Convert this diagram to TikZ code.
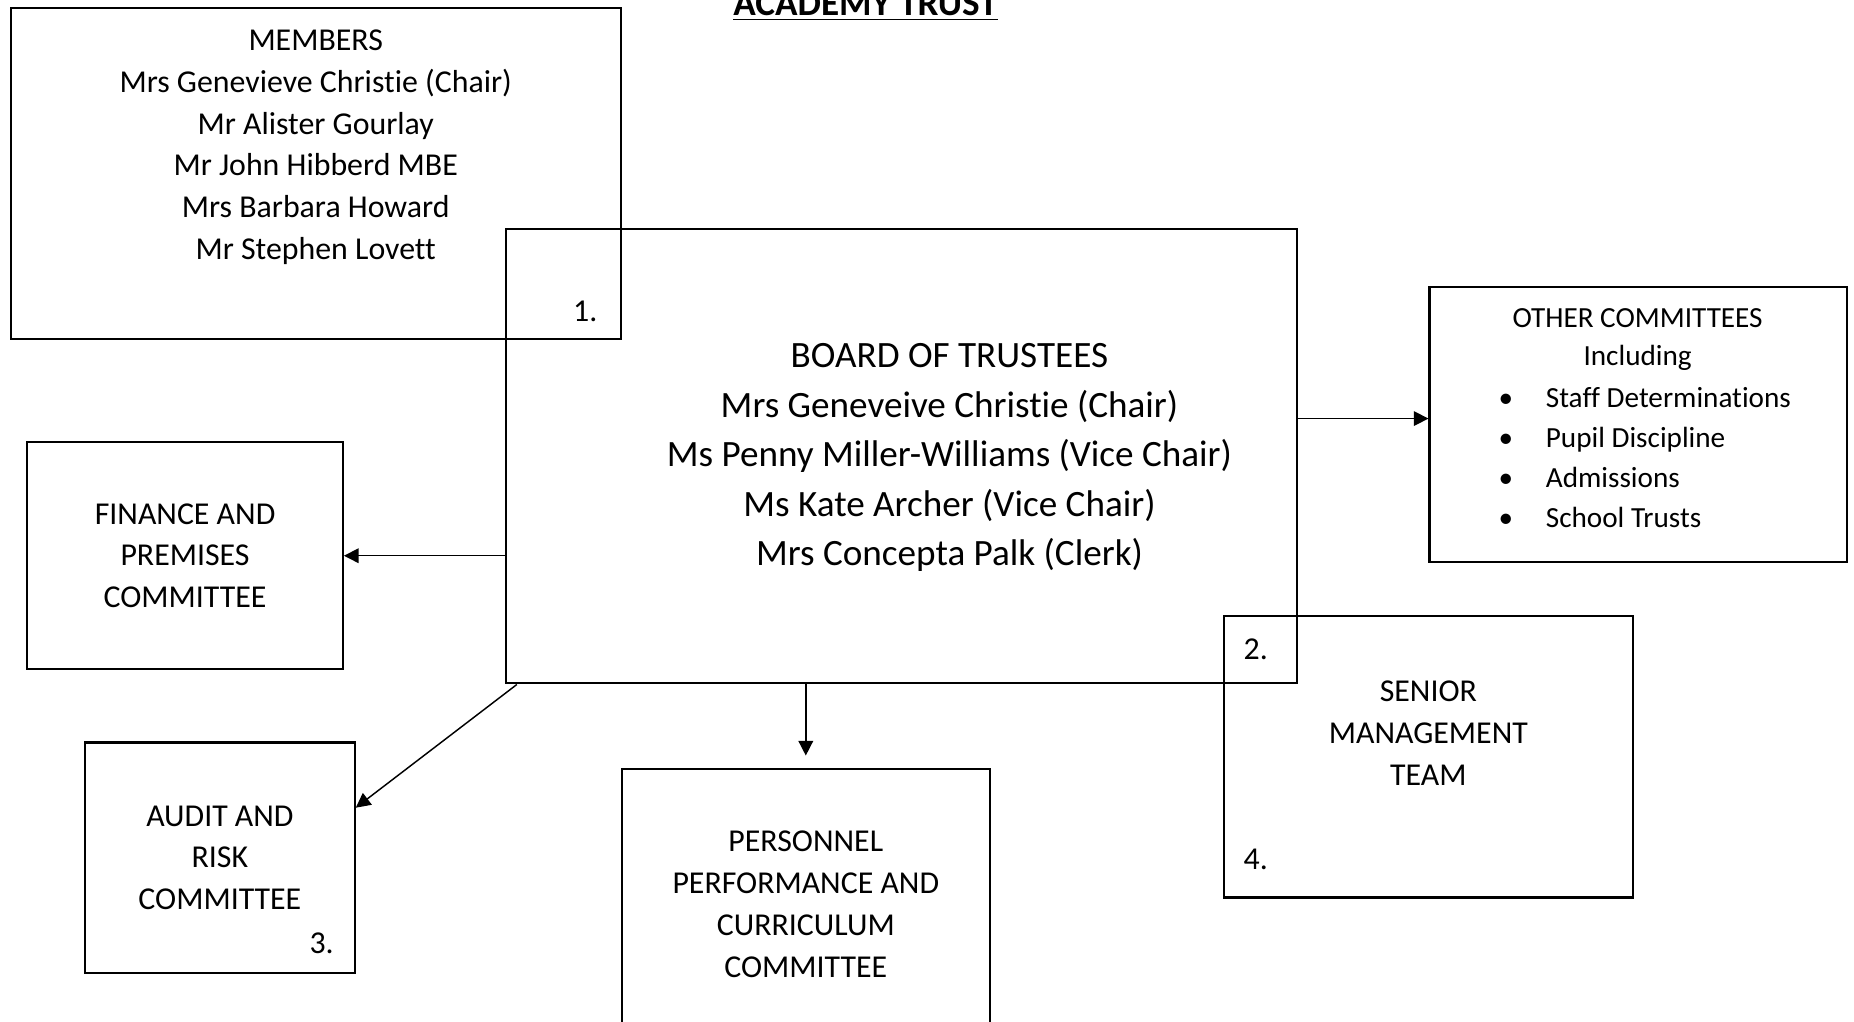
\documentclass[tikz,border=0pt]{standalone}
\usepackage{fontspec}
\setmainfont{Carlito}[Ligatures=NoCommon]
\usetikzlibrary{arrows.meta}
\newcommand{\pxu}{0.4455pt}

\begin{document}
\begin{tikzpicture}[x=\pxu,y=-\pxu,>={Triangle[length=5.5pt,width=5.5pt]},
	box/.style n args={2}{draw,line width=0.8pt,minimum width=#1*\pxu,minimum height=#2*\pxu,
		inner sep=0pt,align=center,font=\fontsize{12}{15.8}\selectfont},
	main text/.style={align=center,inner sep=0pt,font=\fontsize{12}{15.8}\selectfont},
	num/.style={inner sep=0pt,font=\fontsize{12}{15.8}\selectfont}]
	
	\useasboundingbox (0,0) rectangle (1568,864);
	\clip (0,0) rectangle (1568,864);
	
	\node[main text,anchor=base,font=\fontsize{14}{17}\selectfont\bfseries] (title) at (732,13) {\underline{ACADEMY TRUST}};
	
	\node[box={516}{280}] (members) at (267,147) {};
	\node[main text] (memberstxt) at (267,124.5) {MEMBERS\\Mrs Genevieve Christie (Chair)\\Mr Alister Gourlay\\Mr John Hibberd MBE\\Mrs Barbara Howard\\Mr Stephen Lovett};
	
	\node[box={669}{384}] (board) at (762.5,386) {};
	\node[main text,font=\fontsize{14}{18.6}\selectfont] (boardtxt) at (803,387) {BOARD OF TRUSTEES\\Mrs Geneveive Christie (Chair)\\Ms Penny Miller-Williams (Vice Chair)\\Ms Kate Archer (Vice Chair)\\Mrs Concepta Palk (Clerk)};
	\node[num] (n1) at (495,263) {1.};
	
	\node[box={353}{232}] (other) at (1385.5,359) {};
	\node[main text,font=\fontsize{11}{14.3}\selectfont] (othertxt) at (1385,287.5) {OTHER COMMITTEES\\Including};
	\node[main text,align=left,anchor=west,font=\fontsize{11}{15.1}\selectfont] (otherlist) at (1267,387)
		{\makebox[17.8pt][l]{\textbullet}Staff Determinations\\
		 \makebox[17.8pt][l]{\textbullet}Pupil Discipline\\
		 \makebox[17.8pt][l]{\textbullet}Admissions\\
		 \makebox[17.8pt][l]{\textbullet}School Trusts};
	
	\node[box={346}{238}] (senior) at (1208,640) {};
	\node[main text] (seniortxt) at (1208,620) {SENIOR\\MANAGEMENT\\TEAM};
	\node[num] (n2) at (1062,549) {2.};
	\node[num] (n4) at (1062,727) {4.};
	
	\node[box={267}{192}] (finance) at (156.5,470) {FINANCE AND\\PREMISES\\COMMITTEE};
	
	\node[box={228}{195}] (audit) at (186,725.5) {AUDIT AND\\RISK\\COMMITTEE};
	\node[num] (n3) at (272,798) {3.};
	
	\node[box={311}{230}] (personnel) at (681.5,765) {PERSONNEL\\PERFORMANCE AND\\CURRICULUM\\COMMITTEE};
	
	\coordinate (otherin) at ([yshift=5*\pxu]other.west);
	\coordinate (auditin) at ([yshift=-56*\pxu]audit.north east);
	
	\path[->,line width=0.55pt]
	(board.east |- otherin) edge (otherin)
	(board.west |- finance.east) edge (finance.east)
	([xshift=10*\pxu]board.south west) edge (auditin)
	(board.south -| personnel.north) edge[shorten >=4.5pt] (personnel.north);
\end{tikzpicture}
\end{document}
